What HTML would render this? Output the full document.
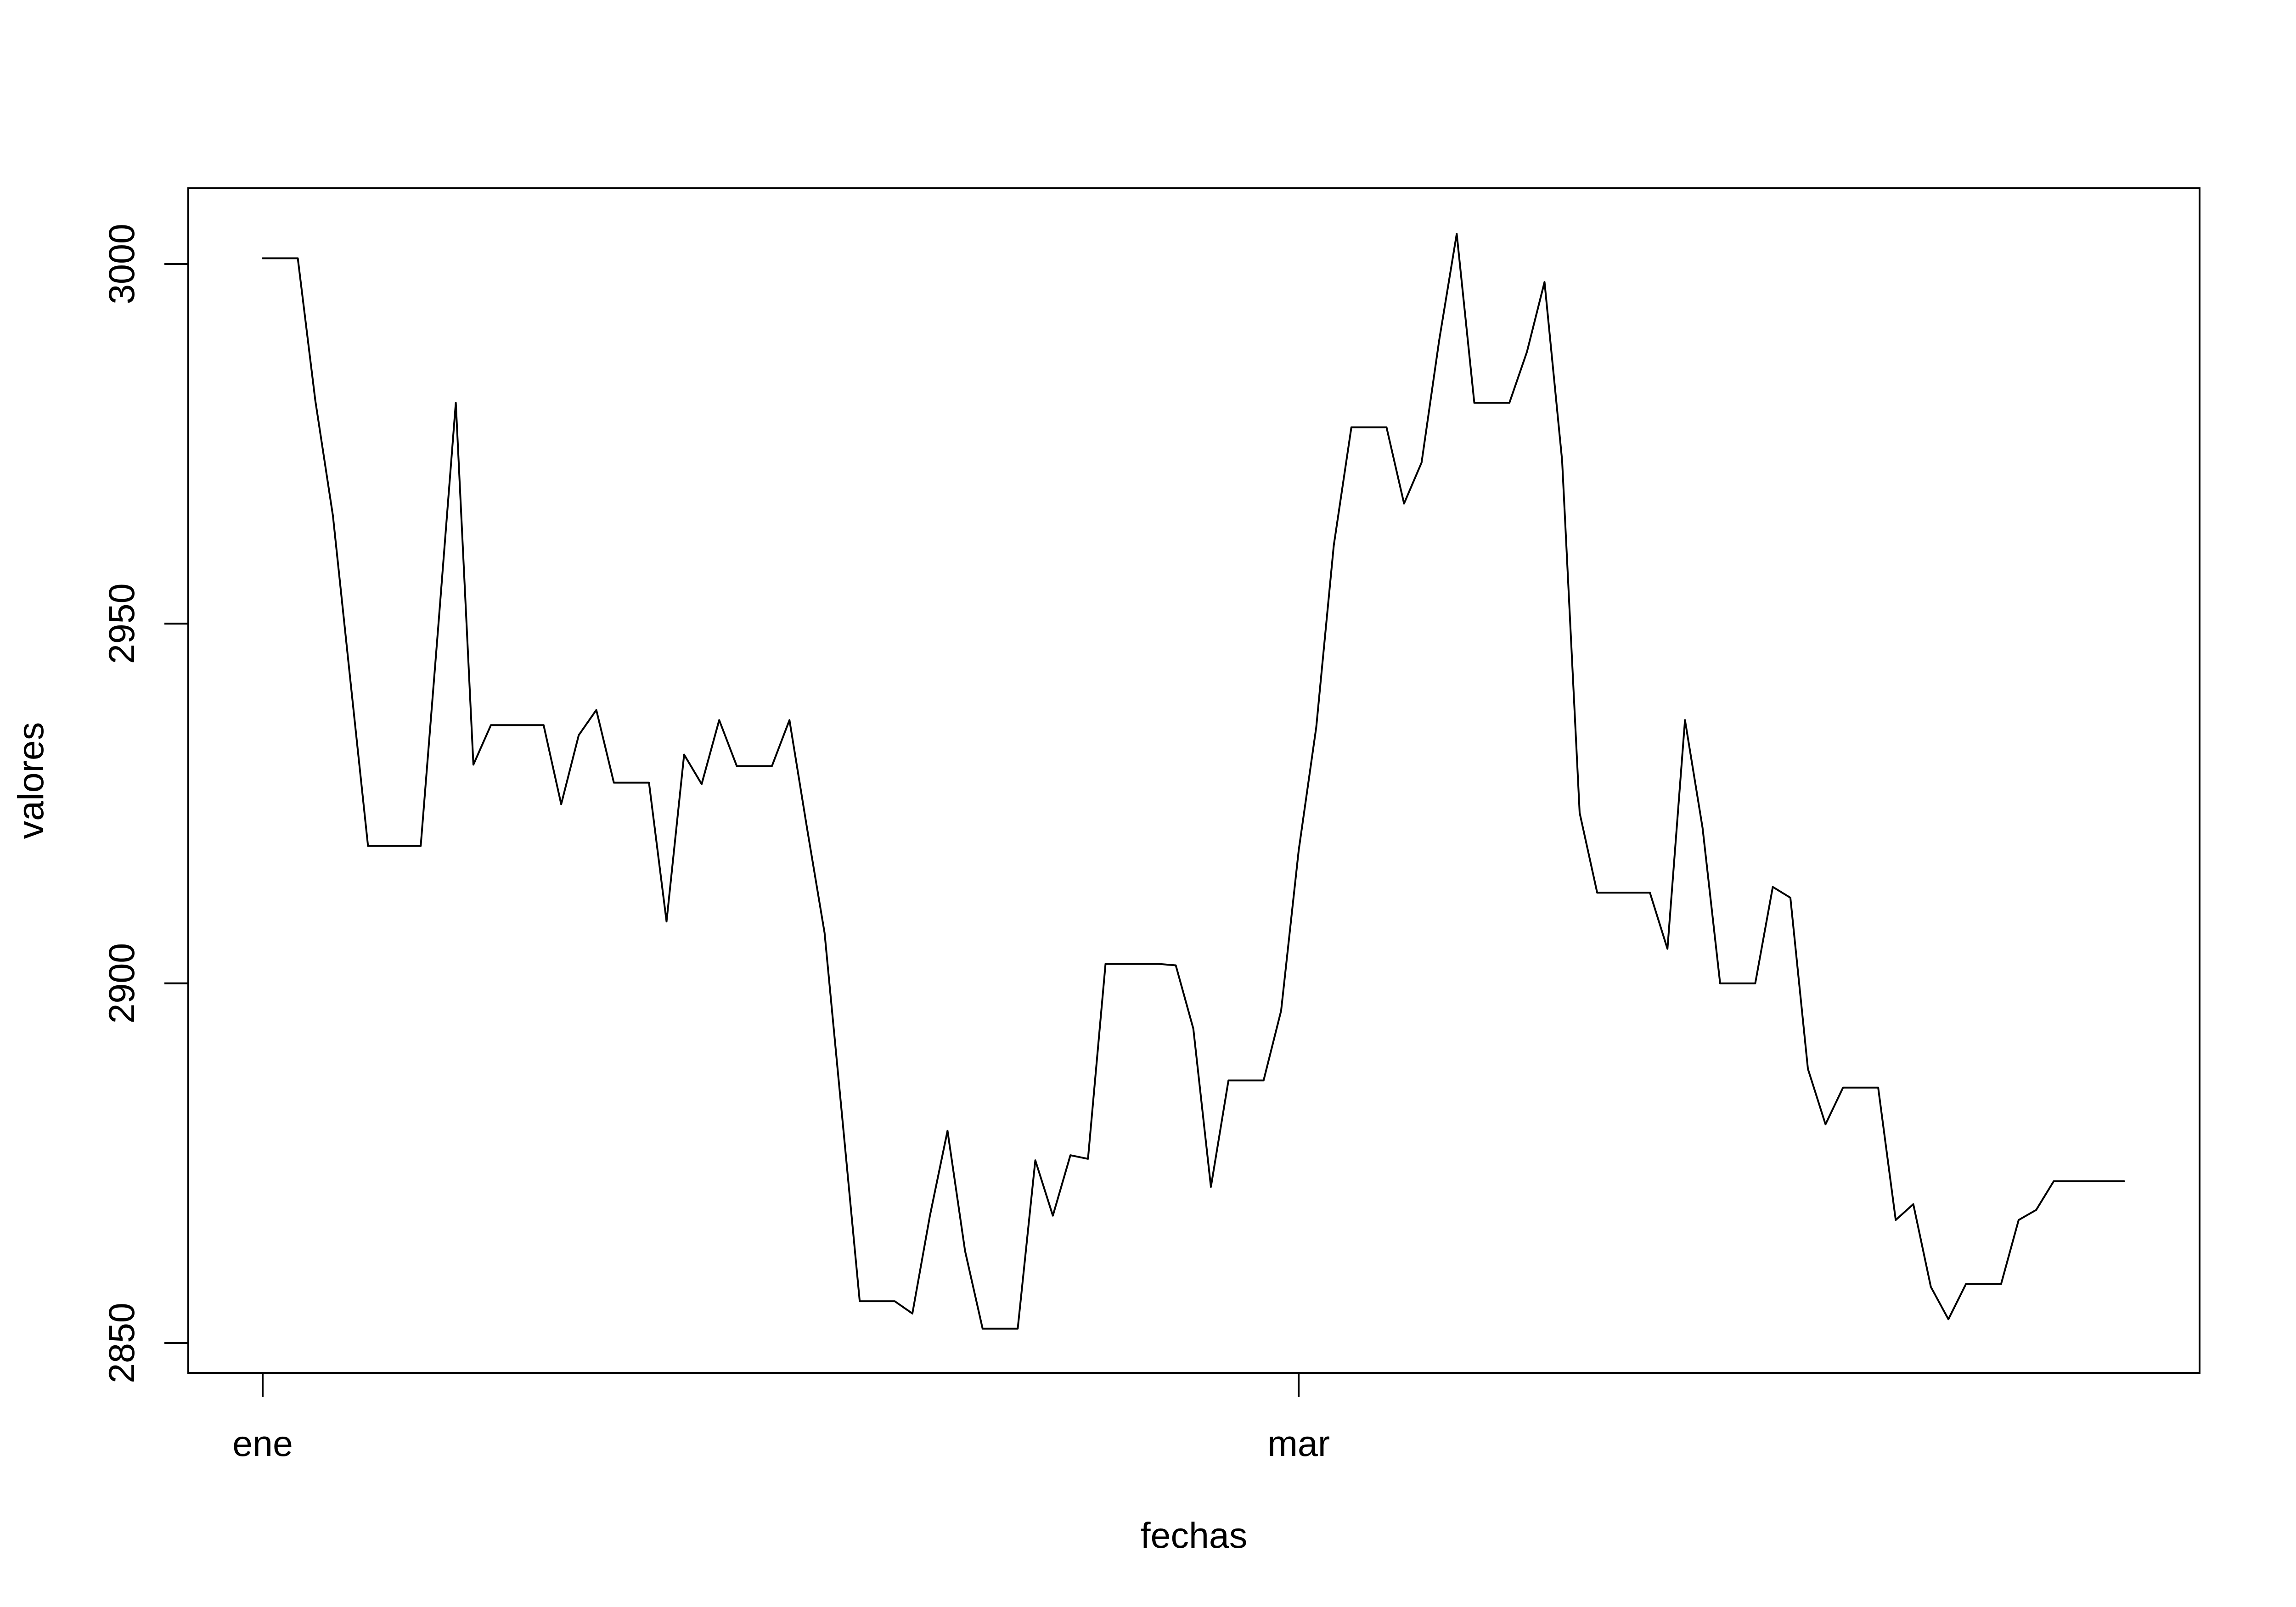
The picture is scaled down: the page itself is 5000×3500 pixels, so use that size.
<!DOCTYPE html>
<html><head><meta charset="utf-8"><style>
html,body{margin:0;padding:0;background:#fff;}
svg{display:block;}
text{font-family:"Liberation Sans",Arial,sans-serif;fill:#000;}
</style></head><body>
<svg id="chart" xmlns="http://www.w3.org/2000/svg" width="5000" height="3500" viewBox="0 0 5000 3500">
<rect x="0" y="0" width="5000" height="3500" fill="#fff"/>
<g id="plot"></g>
</svg>
<script>
const values = [3000.8,3000.8,3000.8,2981,2965,2942,2919.1,2919.1,2919.1,2919.1,
2949.6,2980.7,2930.4,2935.9,2935.9,2935.9,2935.9,2924.9,2934.5,2938,
2927.9,2927.9,2927.9,2908.6,2931.8,2927.7,2936.6,2930.2,2930.2,2930.2,
2936.6,2921.6,2907,2881.5,2855.8,2855.8,2855.8,2854.1,2867.7,2879.5,
2862.8,2852,2852,2852,2875.4,2867.7,2876.1,2875.6,2902.7,2902.7,
2902.7,2902.7,2902.5,2893.7,2871.7,2886.5,2886.5,2886.5,2896.2,2918.5,
2935.6,2960.9,2977.3,2977.3,2977.3,2966.7,2972.4,2989.4,3004.2,2980.7,
2980.7,2980.7,2987.8,2997.5,2972.7,2923.7,2912.6,2912.6,2912.6,2912.6,
2904.8,2936.6,2921.6,2900,2900,2900,2913.4,2911.9,2888.1,2880.4,
2885.5,2885.5,2885.5,2867.1,2869.3,2857.8,2853.3,2858.2,2858.2,2858.2,
2867.1,2868.5,2872.5,2872.5,2872.5,2872.5,2872.5];
const yTicks = [2850,2900,2950,3000];
const xTickDays = [0,59];
const xTickLabels = ["ene","mar"];

const NS = "http://www.w3.org/2000/svg";
const g = document.getElementById('plot');
const box = {l:410, r:4790, t:410, b:2990};
function xScale(d){ return 572 + d*38.24; }
function yScale(v){ return 575 + (3000 - v)*(2350/150); }
function mk(tag, attrs){ const e=document.createElementNS(NS,tag); for(const k in attrs) e.setAttribute(k,attrs[k]); g.appendChild(e); return e; }

const frame = mk('rect',{x:box.l,y:box.t,width:box.r-box.l,height:box.b-box.t,fill:'none',stroke:'#000','stroke-width':4});



yTicks.forEach(v=>{
  const y = yScale(v);
  const t = mk('line',{x1:box.l-52,x2:box.l,y1:y,y2:y,stroke:'#000','stroke-width':4});
  
  
  const lb = mk('text',{x:292,y:y,'font-size':79,'text-anchor':'middle',transform:`rotate(-90 292 ${y})`});
  lb.textContent = v;
  
  
});

xTickDays.forEach((d,i)=>{
  const x = xScale(d);
  const t = mk('line',{x1:x,x2:x,y1:box.b,y2:box.b+52,stroke:'#000','stroke-width':4});
  
  
  const lb = mk('text',{x:x,y:3171,'font-size':79,'text-anchor':'middle'});
  lb.textContent = xTickLabels[i];
  
  
});

const pts = values.map((v,i)=>xScale(i).toFixed(1)+','+yScale(v).toFixed(1)).join(' ');
const line = mk('polyline',{points:pts,fill:'none',stroke:'#000','stroke-width':4,'stroke-linejoin':'round','stroke-linecap':'round'});



const xt = mk('text',{x:2600,y:3371,'font-size':79,'text-anchor':'middle'});
xt.textContent = 'fechas';


const yt = mk('text',{x:94,y:1700,'font-size':79,'text-anchor':'middle',transform:'rotate(-90 94 1700)'});
yt.textContent = 'valores';


</script>
</body></html>
